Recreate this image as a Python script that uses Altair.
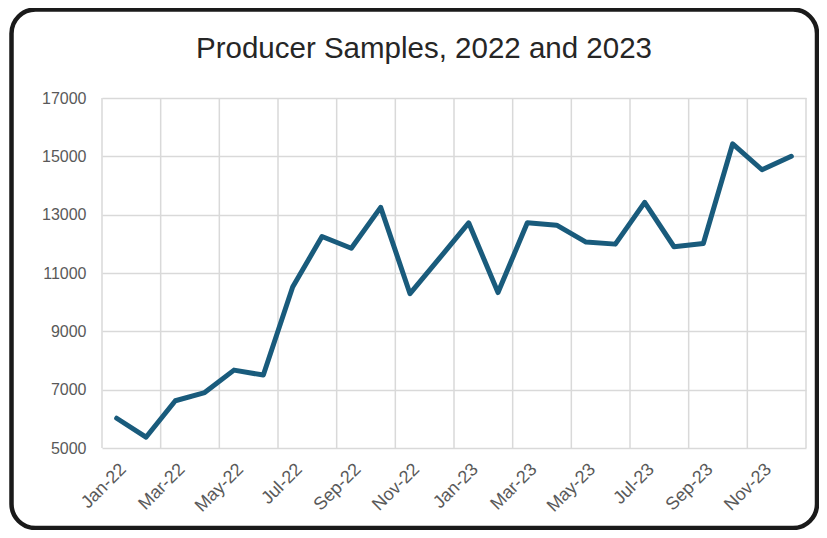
import json
import altair as alt
import pandas as pd

TITLE = "Producer Samples, 2022 and 2023"
months = ["Jan-22", "Feb-22", "Mar-22", "Apr-22", "May-22", "Jun-22",
          "Jul-22", "Aug-22", "Sep-22", "Oct-22", "Nov-22", "Dec-22",
          "Jan-23", "Feb-23", "Mar-23", "Apr-23", "May-23", "Jun-23",
          "Jul-23", "Aug-23", "Sep-23", "Oct-23", "Nov-23", "Dec-23"]
samples = [6020, 5370, 6620, 6900, 7670, 7500,
           10520, 12250, 11850, 13250, 10290, 11500,
           12720, 10330, 12720, 12640, 12060, 11990,
           13420, 11900, 12010, 15430, 14540, 15000]
y_ticks = [5000, 7000, 9000, 11000, 13000, 15000, 17000]

idx = list(range(len(months)))
df = pd.DataFrame({"i": idx, "month": months, "samples": samples})
label_ticks = idx[::2]
grid_x = [i - 0.5 for i in idx[::2]] + [idx[-1] + 0.5]

W, H = 704, 350
label_expr = json.dumps(months) + "[datum.value]"

xscale = alt.Scale(domain=[-0.5, len(months) - 0.5], nice=False, zero=False)
yscale = alt.Scale(domain=[5000, 17000], nice=False, zero=False)

xaxis = alt.Axis(values=label_ticks, labelExpr=label_expr, title=None,
                 grid=False, ticks=False, domain=False, labelOverlap=False,
                 labelAngle=-45, labelAlign="right", labelBaseline="top",
                 labelPadding=12, labelFontSize=18, labelColor="#595959",
                 labelFont="Liberation Sans")

vgrid = alt.Chart(pd.DataFrame({"g": grid_x})).mark_rule(
    color="#d9d9d9", strokeWidth=1.5
).encode(
    x=alt.X("g:Q", scale=xscale, axis=xaxis),
    y=alt.value(0), y2=alt.value(H),
)

line = alt.Chart(df).mark_line(
    color="#195b7c", strokeWidth=5, strokeJoin="round", strokeCap="round"
).encode(
    x=alt.X("i:Q", scale=xscale, axis=xaxis),
    y=alt.Y("samples:Q", scale=yscale,
            axis=alt.Axis(values=y_ticks, format="d", title=None,
                          grid=True, gridColor="#d9d9d9", gridWidth=1.5,
                          ticks=False, domain=False, labelPadding=16,
                          labelFontSize=16, labelColor="#595959",
                          labelFont="Liberation Sans")),
)

title = alt.Chart(pd.DataFrame({"t": [TITLE]})).mark_text(
    fontSize=29.5, font="Liberation Sans", color="#262626",
    align="center", baseline="alphabetic"
).encode(text="t:N", x=alt.value(322), y=alt.value(-40))

frame = alt.Chart(pd.DataFrame({"f": [0]})).mark_rect(
    filled=False, stroke="#1a1a1a", strokeWidth=4.5, cornerRadius=24
).encode(
    x=alt.value(-90.5), x2=alt.value(715),
    y=alt.value(-88.5), y2=alt.value(430),
)

chart = alt.layer(vgrid, line, title, frame).properties(
    width=W, height=H,
    autosize="none",
    padding={"left": 94, "top": 90, "right": 13, "bottom": 82},
    background="white",
).configure_view(stroke=None)

chart.save("out.html", embed_options={"renderer": "svg", "actions": False})
